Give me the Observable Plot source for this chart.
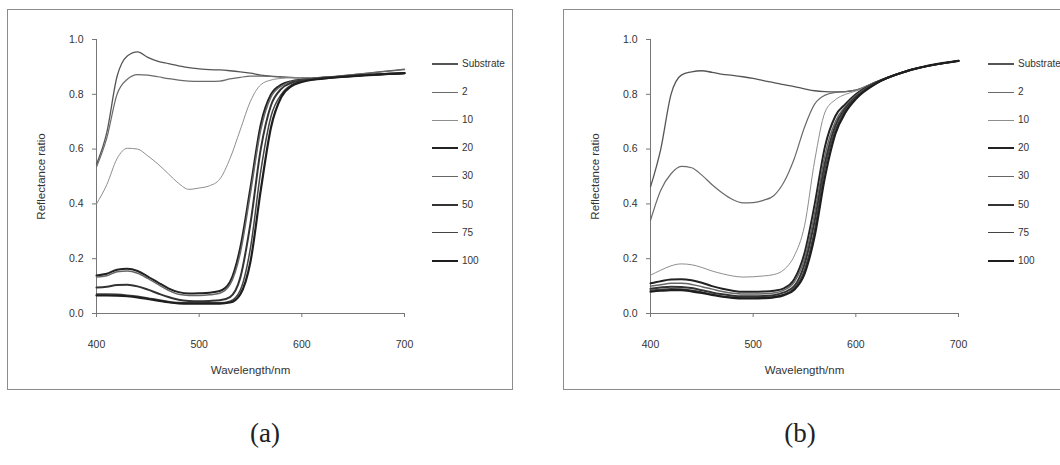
<!DOCTYPE html>
<html><head><meta charset="utf-8">
<script src="https://cdn.jsdelivr.net/npm/d3@7"></script>
<script src="https://cdn.jsdelivr.net/npm/@observablehq/plot@0.6"></script>
<style>
html,body{margin:0;padding:0;background:#fff;width:1060px;height:465px;overflow:hidden;position:relative;font-family:"Liberation Sans",Arial,sans-serif;}
.box{position:absolute;border:1px solid #8c8c8c;box-sizing:border-box;}
.panel{position:absolute;top:0;}
.leg{position:absolute;font-size:10px;color:#333;white-space:nowrap;line-height:10px;}
.legline{position:absolute;}
.cap{position:absolute;font-family:"Liberation Serif","Times New Roman",serif;font-size:27px;color:#222;transform:translate(-50%,-50%);}
</style></head><body>
<script>
// ---- data ----
const wavelengths = [400,410,420,430,440,450,460,470,480,490,500,510,520,530,540,550,560,570,580,590,600,620,650,700];
const seriesNames = ["Substrate","2","10","20","30","50","75","100"];
const yTicks = [0,0.2,0.4,0.6,0.8,1.0];
const xTicks = [400,500,600,700];
const panelCaptions = ["(a)","(b)"];

// panel (a)
const aSubstrate = [0.545,0.66,0.865,0.94,0.955,0.935,0.92,0.912,0.904,0.897,0.893,0.89,0.889,0.886,0.882,0.877,0.87,0.866,0.864,0.862,0.86,0.862,0.872,0.892];
const a2   = [0.535,0.64,0.80,0.855,0.872,0.87,0.864,0.857,0.852,0.848,0.847,0.847,0.848,0.856,0.862,0.866,0.866,0.865,0.863,0.861,0.86,0.862,0.872,0.89];
const a10  = [0.40,0.47,0.565,0.603,0.60,0.575,0.545,0.51,0.475,0.453,0.458,0.466,0.49,0.565,0.67,0.775,0.835,0.852,0.858,0.86,0.86,0.86,0.868,0.878];
const a20  = [0.139,0.145,0.16,0.163,0.155,0.135,0.113,0.092,0.078,0.073,0.074,0.076,0.082,0.115,0.24,0.46,0.69,0.80,0.835,0.848,0.853,0.86,0.868,0.878];
const a30  = [0.133,0.138,0.152,0.155,0.147,0.128,0.106,0.085,0.07,0.066,0.066,0.068,0.074,0.105,0.22,0.44,0.67,0.79,0.83,0.846,0.852,0.86,0.868,0.878];
const a50  = [0.095,0.098,0.104,0.105,0.099,0.087,0.073,0.06,0.05,0.046,0.045,0.046,0.048,0.06,0.13,0.33,0.60,0.76,0.82,0.842,0.85,0.858,0.867,0.877];
const a75  = [0.071,0.071,0.07,0.067,0.063,0.057,0.05,0.044,0.04,0.039,0.039,0.039,0.039,0.045,0.085,0.24,0.52,0.72,0.80,0.835,0.848,0.858,0.867,0.877];
const a100 = [0.066,0.066,0.065,0.063,0.059,0.053,0.047,0.041,0.037,0.036,0.036,0.036,0.036,0.04,0.07,0.19,0.45,0.68,0.79,0.83,0.845,0.857,0.866,0.877];

// panel (b)
const bSubstrate = [0.462,0.60,0.80,0.87,0.882,0.886,0.88,0.873,0.869,0.864,0.858,0.85,0.843,0.835,0.828,0.82,0.813,0.81,0.809,0.81,0.815,0.846,0.886,0.922];
const b2   = [0.34,0.45,0.51,0.537,0.532,0.505,0.47,0.44,0.416,0.404,0.405,0.413,0.43,0.48,0.565,0.68,0.765,0.797,0.807,0.81,0.815,0.846,0.886,0.922];
const b10  = [0.14,0.158,0.174,0.181,0.178,0.168,0.155,0.145,0.137,0.133,0.134,0.137,0.142,0.16,0.21,0.32,0.56,0.735,0.78,0.80,0.812,0.845,0.886,0.922];
const b20  = [0.11,0.118,0.124,0.125,0.121,0.112,0.10,0.09,0.083,0.079,0.079,0.08,0.083,0.092,0.125,0.22,0.40,0.61,0.72,0.765,0.80,0.843,0.885,0.922];
const b30  = [0.10,0.105,0.11,0.11,0.106,0.098,0.089,0.08,0.074,0.071,0.071,0.072,0.075,0.085,0.115,0.20,0.37,0.58,0.70,0.757,0.795,0.842,0.885,0.922];
const b50  = [0.09,0.095,0.098,0.097,0.093,0.085,0.077,0.07,0.065,0.063,0.063,0.064,0.067,0.077,0.10,0.18,0.34,0.55,0.685,0.75,0.79,0.841,0.885,0.922];
const b75  = [0.085,0.088,0.09,0.089,0.085,0.078,0.07,0.063,0.059,0.057,0.057,0.058,0.061,0.07,0.092,0.16,0.31,0.53,0.67,0.743,0.787,0.84,0.885,0.922];
const b100 = [0.08,0.083,0.085,0.085,0.081,0.075,0.068,0.061,0.057,0.055,0.055,0.056,0.059,0.067,0.087,0.145,0.285,0.50,0.655,0.735,0.783,0.84,0.885,0.922];

const panelA = [aSubstrate,a2,a10,a20,a30,a50,a75,a100];
const panelB = [bSubstrate,b2,b10,b20,b30,b50,b75,b100];

// ---- styles ----
const lineStyles = [
  {color:"#555", width:1.3},
  {color:"#6a6a6a", width:1.2},
  {color:"#8e8e8e", width:1},
  {color:"#222", width:2},
  {color:"#666", width:1.5},
  {color:"#333", width:2},
  {color:"#444", width:1.5},
  {color:"#1e1e1e", width:2.2}
];
const FONT = '"Liberation Sans", Arial, sans-serif';

function makePanel(arrays){
  const marks = [
    Plot.ruleY([0], {stroke:"#777", strokeWidth:1}),
    Plot.ruleX([400], {stroke:"#777", strokeWidth:1})
  ];
  arrays.forEach((arr, i) => {
    const rows = wavelengths.map((w, j) => ({wl: w, r: arr[j], s: seriesNames[i]}));
    marks.push(Plot.line(rows, {x:"wl", y:"r", stroke: lineStyles[i].color, strokeWidth: lineStyles[i].width, curve:"monotone-x"}));
  });
  marks.push(Plot.axisX({ticks: xTicks, tickSize: 4, tickPadding: 23, stroke:"#777", label: null, fontSize: 10.5}));
  marks.push(Plot.axisX({ticks: [], label: "Wavelength/nm", labelAnchor: "center", labelOffset: 60, labelArrow: "none", fontSize: 11.5}));
  marks.push(Plot.axisY({ticks: yTicks, tickSize: 4, tickPadding: 9, stroke:"#777", tickFormat: d3.format(".1f"), label: null, fontSize: 10.5}));
  marks.push(Plot.axisY({ticks: [], label: "Reflectance ratio", labelAnchor: "center", labelOffset: 60, labelArrow: "none", fontSize: 11.5}));
  return Plot.plot({
    width: 440, height: 400,
    marginLeft: 96, marginRight: 36, marginTop: 39, marginBottom: 87,
    x: {domain: [400, 700]},
    y: {domain: [0, 1]},
    style: {fontFamily: FONT, color: "#333", background: "transparent", overflow: "visible"},
    marks
  });
}

function addDiv(cls, css, html){
  const d = document.createElement("div");
  d.className = cls;
  Object.assign(d.style, css);
  if (html != null) d.innerHTML = html;
  document.body.appendChild(d);
  return d;
}

// boxes
addDiv("box", {left:"7px", top:"9px", width:"506px", height:"381px"});
addDiv("box", {left:"563px", top:"9px", width:"520px", height:"381px"});

const panels = [
  {arrays: panelA, left: 0, legX: 432, cap: 265},
  {arrays: panelB, left: 554, legX: 988, cap: 800}
];
panels.forEach((p, k) => {
  const svg = makePanel(p.arrays);
  const wrap = addDiv("panel", {left: p.left + "px"});
  wrap.appendChild(svg);
  seriesNames.forEach((name, i) => {
    const y = 64 + i * 28.1;
    addDiv("legline", {left: p.legX + "px", top: (y - lineStyles[i].width / 2) + "px", width: "26px", height: lineStyles[i].width + "px", background: lineStyles[i].color});
    addDiv("leg", {left: (p.legX + 30) + "px", top: (y - 5) + "px"}, name);
  });
  addDiv("cap", {left: p.cap + "px", top: "433px"}, panelCaptions[k]);
});
</script>
</body></html>
